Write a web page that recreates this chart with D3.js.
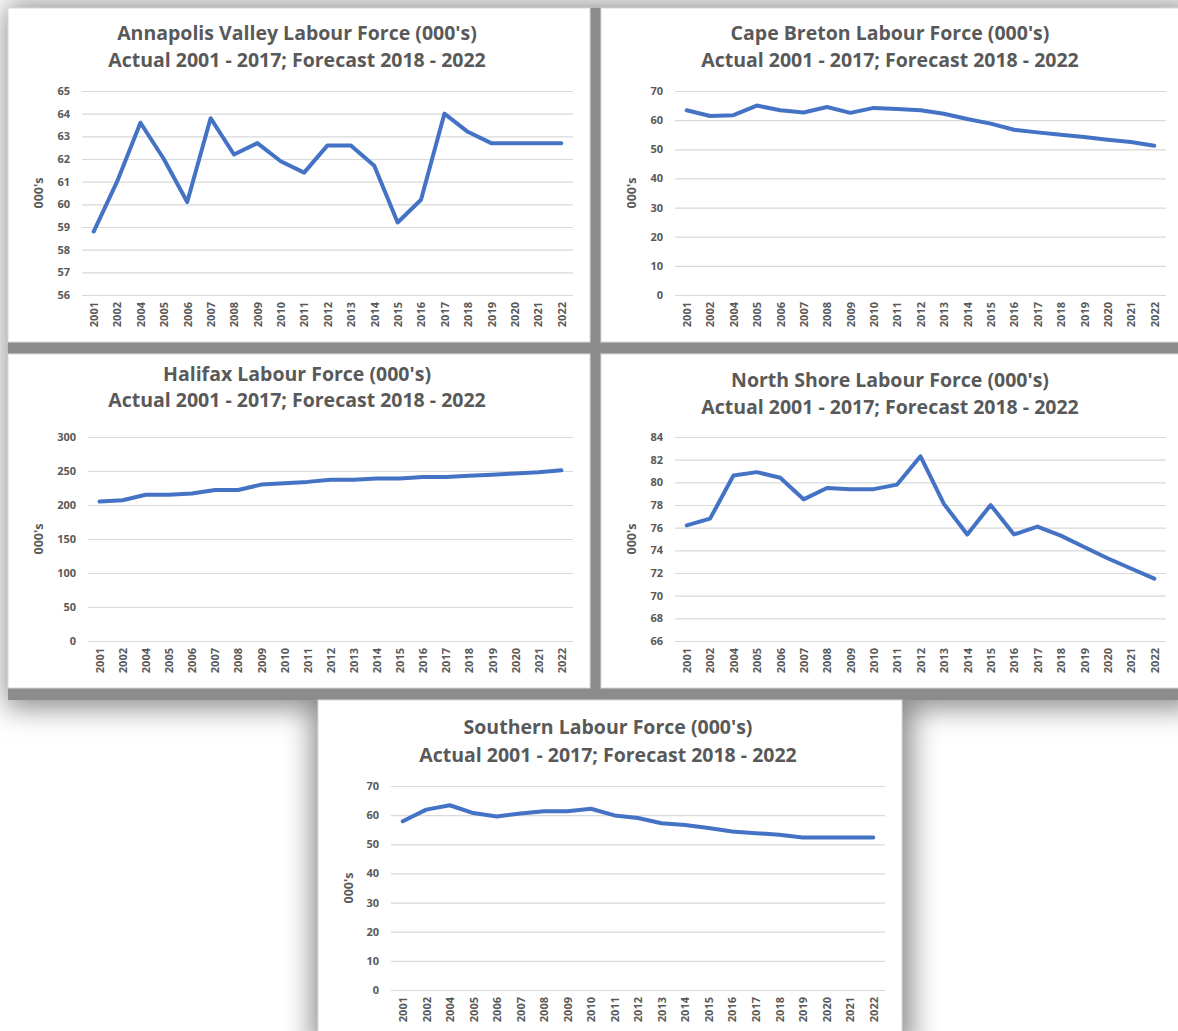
<!DOCTYPE html>
<html>
<head>
<meta charset="utf-8">
<script src="https://cdn.jsdelivr.net/npm/d3@7"></script>
<style>
  body { margin: 0; background: #fff; }
  svg { display: block; font-family: "Open Sans", Lato, sans-serif; }
</style>
</head>
<body>
<svg width="1178" height="1031"></svg>
<script>
// note: 2003 is missing from the source data
const years = ['2001','2002','2004','2005','2006','2007','2008','2009','2010','2011',
  '2012','2013','2014','2015','2016','2017','2018','2019','2020','2021','2022'];

const annapolisValues = [58.8, 61.0, 63.6, 62.0, 60.1, 63.8, 62.2, 62.7, 61.9, 61.4,
  62.6, 62.6, 61.7, 59.2, 60.2, 64.0, 63.2, 62.7, 62.7, 62.7, 62.7];
const capeBretonValues = [63.4, 61.4, 61.7, 65.0, 63.4, 62.6, 64.5, 62.5, 64.2, 63.8,
  63.4, 62.2, 60.4, 58.8, 56.7, 55.8, 55.0, 54.2, 53.3, 52.5, 51.2];
const halifaxValues = [205, 207, 215, 215, 217, 222, 222, 230, 232, 234,
  237, 237, 239, 239, 241, 241, 243, 244.5, 246.5, 248, 251];
const northShoreValues = [76.2, 76.8, 80.6, 80.9, 80.4, 78.5, 79.5, 79.4, 79.4, 79.8,
  82.3, 78.1, 75.4, 78.0, 75.4, 76.1, 75.3, 74.3, 73.3, 72.4, 71.5];
const southernValues = [57.9, 61.9, 63.4, 60.7, 59.5, 60.6, 61.3, 61.3, 62.2, 59.9,
  59.0, 57.2, 56.6, 55.6, 54.4, 53.8, 53.3, 52.3, 52.3, 52.3, 52.3];

const annapolisTicks = [56, 57, 58, 59, 60, 61, 62, 63, 64, 65];
const capeBretonTicks = [0, 10, 20, 30, 40, 50, 60, 70];
const halifaxTicks = [0, 50, 100, 150, 200, 250, 300];
const northShoreTicks = [66, 68, 70, 72, 74, 76, 78, 80, 82, 84];
const southernTicks = [0, 10, 20, 30, 40, 50, 60, 70];

const regions = ['Annapolis Valley', 'Cape Breton', 'Halifax', 'North Shore', 'Southern'];
const subtitle = 'Actual 2001 - 2017; Forecast 2018 - 2022';
const yTitle = "000's";

// where each panel sits on the page
const panels = [
  {x: 8,   y: 8,   w: 582, h: 334, left: 74, top: 83, t1: 32, t2: 59, values: annapolisValues, ticks: annapolisTicks},
  {x: 601, y: 8,   w: 582, h: 334, left: 74, top: 83, t1: 32, t2: 59, values: capeBretonValues, ticks: capeBretonTicks},
  {x: 8,   y: 354, w: 582, h: 334, left: 80, top: 83, t1: 27, t2: 53, values: halifaxValues, ticks: halifaxTicks},
  {x: 601, y: 354, w: 582, h: 334, left: 74, top: 83, t1: 33, t2: 60, values: northShoreValues, ticks: northShoreTicks},
  {x: 318, y: 700, w: 584, h: 334, left: 73, top: 86, t1: 34, t2: 62, values: southernValues, ticks: southernTicks}
];
panels.forEach((p, i) => p.name = regions[i]);

const svg = d3.select('svg');

// soft grey shadow behind the pasted charts
const defs = svg.append('defs');
defs.append('filter').attr('id', 'blur')
  .attr('x', '-20%').attr('y', '-20%').attr('width', '140%').attr('height', '140%')
  .append('feGaussianBlur').attr('stdDeviation', 14);

const shadow = svg.append('g').attr('filter', 'url(#blur)');
shadow.append('rect').attr('x', 6).attr('y', 4).attr('width', 1190).attr('height', 704).attr('fill', '#8a8a8a');
shadow.append('rect').attr('x', 312).attr('y', 690).attr('width', 600).attr('height', 360).attr('fill', '#8a8a8a');
svg.append('rect').attr('x', 8).attr('y', 8).attr('width', 1175).attr('height', 692).attr('fill', '#8c8c8c');
svg.append('rect').attr('x', 318).attr('y', 700).attr('width', 584).attr('height', 334).attr('fill', '#8c8c8c');

panels.forEach(p => {
  const g = svg.append('g').attr('transform', `translate(${p.x},${p.y})`);
  g.append('rect').attr('width', p.w).attr('height', p.h)
    .attr('fill', '#fff').attr('stroke', '#d9d9d9');

  const plotW = p.w - p.left - 17;
  const plotH = 204;
  const x = d3.scalePoint().domain(years).range([0, plotW]).padding(0.5);
  const y = d3.scaleLinear().domain(d3.extent(p.ticks)).range([plotH, 0]);

  g.append('text').attr('x', p.w / 2 - 2).attr('y', p.t1)
    .attr('text-anchor', 'middle').attr('font-size', 19.5).attr('font-weight', 'bold')
    .attr('fill', '#595959').text(`${p.name} Labour Force (000's)`);
  g.append('text').attr('x', p.w / 2 - 2).attr('y', p.t2)
    .attr('text-anchor', 'middle').attr('font-size', 19.5).attr('font-weight', 'bold')
    .attr('fill', '#595959').text(subtitle);

  const plot = g.append('g').attr('transform', `translate(${p.left},${p.top})`);

  const yAxis = plot.append('g')
    .call(d3.axisLeft(y).tickValues(p.ticks).tickSize(-plotW).tickPadding(12));
  yAxis.select('.domain').remove();
  yAxis.selectAll('line').attr('stroke', '#d9d9d9').attr('stroke-width', 1.2);
  yAxis.selectAll('text').attr('fill', '#595959').attr('font-size', 11)
    .attr('font-weight', 'bold').attr('font-family', '"Open Sans"');

  const xAxis = plot.append('g').attr('transform', `translate(0,${plotH})`)
    .call(d3.axisBottom(x).tickSize(0));
  xAxis.select('.domain').remove();
  xAxis.selectAll('text')
    .attr('transform', 'rotate(-90)')
    .attr('text-anchor', 'end')
    .attr('x', -7).attr('y', 0).attr('dy', '0.35em')
    .attr('fill', '#595959').attr('font-size', 11)
    .attr('font-weight', 'bold').attr('font-family', '"Open Sans"');

  g.append('text')
    .attr('transform', `translate(31,${p.top + plotH / 2}) rotate(-90)`)
    .attr('text-anchor', 'middle').attr('dy', '0.35em')
    .attr('font-size', 12.5).attr('font-weight', 'bold').attr('fill', '#595959')
    .text(yTitle);

  const line = d3.line().x((d, i) => x(years[i])).y(d => y(d));
  plot.append('path').datum(p.values)
    .attr('d', line)
    .attr('fill', 'none').attr('stroke', '#4472c4')
    .attr('stroke-width', 4).attr('stroke-linejoin', 'round').attr('stroke-linecap', 'round');
});
</script>
</body>
</html>
